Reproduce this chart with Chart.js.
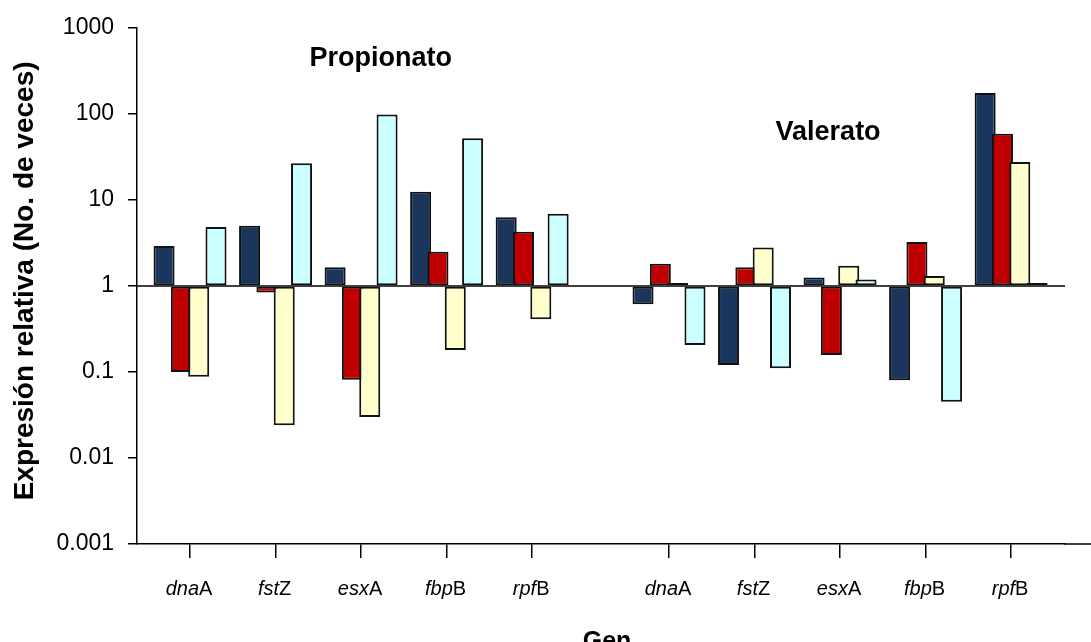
<!DOCTYPE html>
<html>
<head>
<meta charset="utf-8">
<title>Expresión relativa por gen</title>
<script src="https://cdn.jsdelivr.net/npm/chart.js@4"></script>
<style>
  html, body { margin: 0; padding: 0; background: #fff; }
  canvas { display: block; }
</style>
</head>
<body>
<canvas id="chart" width="1091" height="642"></canvas>
<script>
// Genes measured under each carbon source (italic part + final upright letter)
const genes = ['dnaA', 'fstZ', 'esxA', 'fbpB', 'rpfB', 'dnaA', 'fstZ', 'esxA', 'fbpB', 'rpfB'];
const conditions = ['Propionato', 'Valerato'];

// Relative expression (fold change) per series, one value per gene above
const serie1 = [2.9, 5.0, 1.65, 12.4, 6.3, 0.61, 0.12, 1.25, 0.08, 175];
const serie2 = [0.1, 0.84, 0.081, 2.5, 4.25, 1.81, 1.65, 0.157, 3.24, 58.5];
const serie3 = [0.088, 0.024, 0.030, 0.18, 0.41, 1.08, 2.79, 1.71, 1.3, 27.5];
const serie4 = [4.85, 26.6, 98, 52, 6.9, 0.206, 0.11, 1.19, 0.045, 1.08];

const yTickValues = [0.001, 0.01, 0.1, 1, 10, 100, 1000];
const yTickLabels = ['0.001', '0.01', '0.1', '1', '10', '100', '1000'];

const xTitle = 'Gen';
const yTitle = 'Expresión relativa (No. de veces)';

const FAMILY = "'Liberation Sans', Arial, Helvetica, sans-serif";
const GENES_PER_CONDITION = 5;
const CONDITION_GAP = 0.6;   // extra space between the two carbon-source blocks

// position of gene i along the category axis
function xPos(i) {
  return i + (i >= GENES_PER_CONDITION ? CONDITION_GAP : 0);
}

const series = [
  { label: 'Serie 1', values: serie1, color: '#1B365D' },
  { label: 'Serie 2', values: serie2, color: '#C00000' },
  { label: 'Serie 3', values: serie3, color: '#FFFFCC' },
  { label: 'Serie 4', values: serie4, color: '#CCFFFF' }
];

const datasets = series.map(s => ({
  label: s.label,
  data: s.values.map((v, i) => ({ x: xPos(i), y: v })),
  backgroundColor: s.color,
  borderColor: '#111111',
  borderWidth: 2,
  borderSkipped: false,
  base: 1,
  categoryPercentage: 0.81,
  barPercentage: 1.214
}));

const overlayPlugin = {
  id: 'geneOverlay',
  beforeDatasetsDraw(chart) {
    const { ctx, chartArea, scales: { y } } = chart;
    const yBase = y.getPixelForValue(1);
    ctx.save();
    ctx.strokeStyle = '#000';
    ctx.lineWidth = 1.5;
    ctx.beginPath();
    ctx.moveTo(chartArea.left, yBase);
    ctx.lineTo(chartArea.right, yBase);
    ctx.stroke();
    ctx.restore();
    // draw series in order so each later series sits over the previous one
    for (let i = 0; i < chart.data.datasets.length; i++) {
      if (chart.isDatasetVisible(i)) chart.getDatasetMeta(i).controller.draw();
    }
    return false;
  },
  afterDraw(chart) {
    const { ctx, chartArea, scales: { x, y } } = chart;
    ctx.save();
    // bottom axis line continues to the canvas edge
    ctx.strokeStyle = '#000';
    ctx.lineWidth = 1.5;
    ctx.beginPath();
    ctx.moveTo(chartArea.right - 1, chartArea.bottom);
    ctx.lineTo(chart.width, chartArea.bottom);
    ctx.stroke();

    // gene names: italic locus + upright letter
    ctx.fillStyle = '#000';
    ctx.textBaseline = 'alphabetic';
    ctx.textAlign = 'left';
    const labelY = chartArea.bottom + 51;
    genes.forEach((g, i) => {
      const it = g.slice(0, -1);
      const up = g.slice(-1);
      const cx = x.getPixelForValue(xPos(i)) - 1;
      ctx.font = `italic 20px ${FAMILY}`;
      const wi = ctx.measureText(it).width;
      ctx.font = `20px ${FAMILY}`;
      const wu = ctx.measureText(up).width;
      const sx = cx - (wi + wu) / 2;
      ctx.font = `italic 20px ${FAMILY}`;
      ctx.fillText(it, sx, labelY);
      ctx.font = `20px ${FAMILY}`;
      ctx.fillText(up, sx + wi, labelY);
    });

    // carbon source headings
    ctx.font = `bold 27px ${FAMILY}`;
    ctx.textAlign = 'center';
    const headingPos = [[2.23, 355], [7.46, 49]];
    conditions.forEach((c, k) => {
      ctx.fillText(c, x.getPixelForValue(headingPos[k][0]), y.getPixelForValue(headingPos[k][1]));
    });

    // axis titles
    ctx.font = `bold 25px ${FAMILY}`;
    ctx.fillText(xTitle, (chartArea.left + chartArea.right) / 2 + 6, chartArea.bottom + 105);
    ctx.font = `bold 28px ${FAMILY}`;
    ctx.translate(33, (chartArea.top + chartArea.bottom) / 2 - 5);
    ctx.rotate(-Math.PI / 2);
    ctx.fillText(yTitle, 0, 0);
    ctx.restore();
  }
};

new Chart(document.getElementById('chart'), {
  type: 'bar',
  data: { datasets },
  options: {
    responsive: false,
    animation: false,
    layout: { padding: { top: 21, right: 26, bottom: 0, left: 0 } },
    plugins: {
      legend: { display: false },
      tooltip: { enabled: false }
    },
    scales: {
      x: {
        type: 'linear',
        offset: false,
        min: -0.62,
        max: 10.23,
        afterBuildTicks: s => { s.ticks = genes.map((g, i) => ({ value: xPos(i) })); },
        ticks: { display: false },
        grid: { offset: false, drawOnChartArea: false, drawTicks: true, tickLength: 14, color: '#000', lineWidth: 1.5 },
        border: { display: true, color: '#000', width: 1.5 },
        afterFit: s => { s.height = 98; }
      },
      y: {
        type: 'logarithmic',
        min: 0.001,
        max: 1000,
        afterBuildTicks: s => { s.ticks = yTickValues.map(v => ({ value: v })); },
        ticks: {
          autoSkip: false,
          color: '#000',
          padding: 14,
          font: { family: FAMILY, size: 23 },
          callback: (v, i) => yTickLabels[i]
        },
        grid: { drawOnChartArea: false, drawTicks: true, tickLength: 9, color: '#000', lineWidth: 1.5 },
        border: { display: true, color: '#000', width: 1.5 },
        afterFit: s => { s.width = 137; }
      }
    }
  },
  plugins: [overlayPlugin]
});
</script>
</body>
</html>
